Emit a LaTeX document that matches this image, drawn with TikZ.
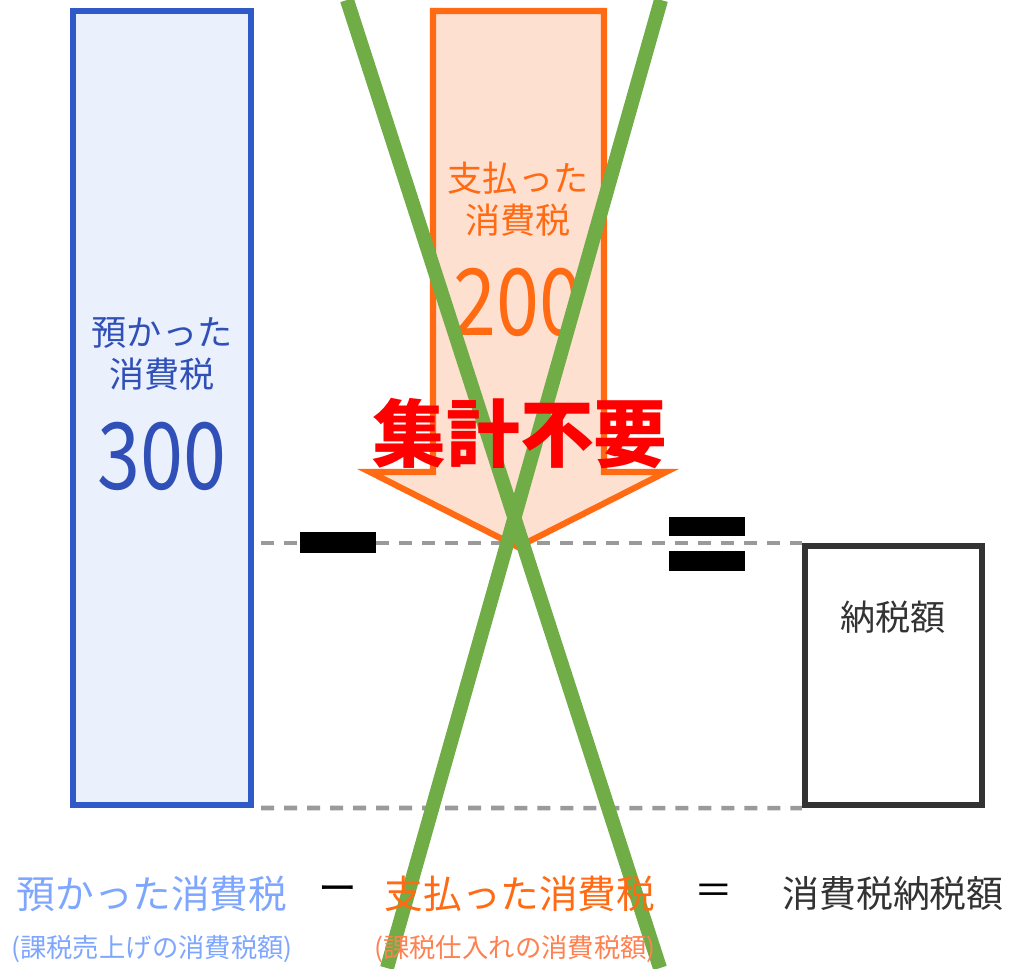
\documentclass[tikz,border=0pt]{standalone}
\usepackage{fontspec}
\setmainfont{Noto Sans CJK JP}
\usetikzlibrary{positioning}

\definecolor{kblue}{HTML}{2F5BC8}
\definecolor{kbluefill}{HTML}{EAF1FC}
\definecolor{kbluetext}{HTML}{3050B8}
\definecolor{klightblue}{HTML}{7EA6FF}
\definecolor{korange}{HTML}{FF6A13}
\definecolor{korangefill}{HTML}{FDE0D0}
\definecolor{klightorange}{HTML}{FF8050}
\definecolor{kgreen}{HTML}{70AD47}
\definecolor{kgray}{HTML}{9A9A9A}
\definecolor{kdark}{HTML}{333333}

\begin{document}
\begin{tikzpicture}[x=0.02cm, y=-0.02cm,
		taxbox/.style={draw, rectangle, line width=3.5pt, inner sep=0pt},
		dashline/.style={kgray, line width=2.6pt, dash pattern=on 7.4pt off 5.7pt},
		crossline/.style={kgreen, line width=8pt},
		boxtext/.style={font=\fontsize{20}{24}\selectfont, align=center},
		bigtext/.style={font=\fontsize{44}{50}\selectfont},
		formula/.style={font=\fontsize{22}{26}\selectfont},
		subformula/.style={font=\fontsize{15}{18}\selectfont}]
	\useasboundingbox (0,0) rectangle (1015,968);
	\def\ymid{545}   % Top line of the result box
	\def\ybot{806}   % Bottom line of all boxes
	\def\yform{894}  % Formula row
	\def\ysub{949}   % Note row
	
	% Received tax (left box)
	\node[taxbox, draw=kblue, fill=kbluefill, minimum width=3.56cm, minimum height=15.88cm]
	(azukari) at (162,408) {};
	\node[boxtext, text=kbluetext] (azukaritxt) at (162,354) {預かった\\消費税};
	\node[bigtext, text=kbluetext] (azukarinum) at (162,456) {\scalebox{1}[1.2]{300}};
	
	% Result box
	\node[taxbox, draw=kdark, fill=white, minimum width=3.54cm, minimum height=5.18cm]
	(nouzei) at (893.5,675.5) {};
	\node[boxtext, text=kdark] (nouzeitxt) at (893,617) {納税額};
	
	% Dashed guides
	\draw[dashline, shorten <=4pt] (azukari.east |- nouzei.north west) -- (nouzei.north west);
	\draw[dashline, shorten <=4pt] (azukari.south east) -- (nouzei.south west);
	
	% Paid tax (arrow)
	\draw[korange, fill=korangefill, line width=3.5pt, line join=miter]
	(433,11) -- (604,11) -- (604,472) -- (666,472) -- (518,547)
	-- (370,472) -- (433,472) -- cycle;
	\node[boxtext, text=korange] (shiharaitxt) at (518,199) {支払った\\消費税};
	\node[bigtext, text=korange] (shiharainum) at (518,302) {\scalebox{1}[1.2]{200}};
	
	% Minus and equals
	\fill[black] (300,532) rectangle (376,553);
	\fill[black] (669,517) rectangle (745,536);
	\fill[black] (669,551) rectangle (745,571);
	
	% Cross
	\coordinate (xa) at (347,0);
	\coordinate (xb) at (660,968);
	\coordinate (xc) at (661,0);
	\coordinate (xd) at (387,968);
	\draw[crossline] (xa) -- (xb);
	\draw[crossline] (xc) -- (xd);
	
	\node[font=\fontsize{42}{44}\selectfont\bfseries, text=red] (fuyou) at (520,434) {集計不要};
	
	% Formula
	\node[formula, text=klightblue] (f1) at (152,\yform) {預かった消費税};
	\node[subformula, text=klightblue] (f1s) at (152,\ysub) {(課税売上げの消費税額)};
	\node[formula, text=black] (fminus) at (338,\yform) {ー};
	\node[formula, text=korange] (f2) at (520,\yform) {支払った消費税};
	\node[subformula, text=klightorange] (f2s) at (515,\ysub) {(課税仕入れの消費税額)};
	\node[formula, text=black] (fequal) at (714,\yform) {＝};
	\node[font=\fontsize{21}{26}\selectfont, text=kdark, anchor=west, inner sep=0pt] (f3) at (782,\yform) {消費税納税額};
\end{tikzpicture}
\end{document}
